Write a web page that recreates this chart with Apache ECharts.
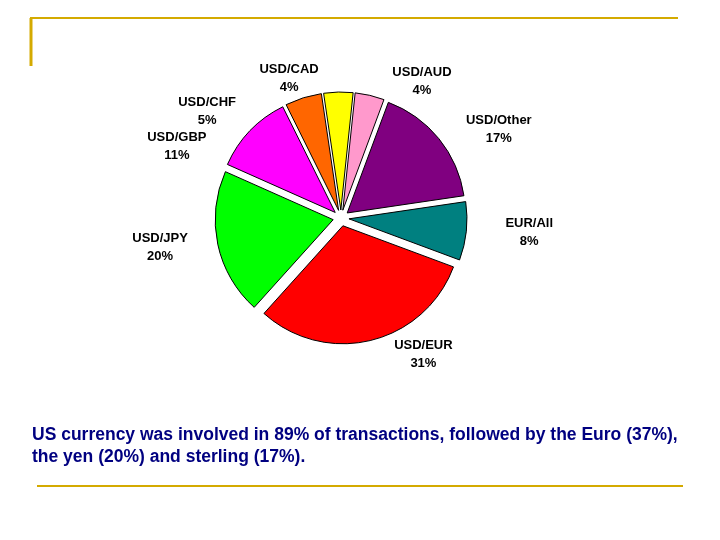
<!DOCTYPE html>
<html style="height: 100%">
<head>
	<meta charset="utf-8">
</head>
<body style="height: 100%; margin: 0; background: #fff">
<div id="container" style="height: 100%"></div>
<script type="text/javascript" src="https://cdn.jsdelivr.net/npm/echarts@6/dist/echarts.min.js"></script>
<script type="text/javascript">
    var pairs = ['USD/AUD', 'USD/Other', 'EUR/All', 'USD/EUR', 'USD/JPY', 'USD/GBP', 'USD/CHF', 'USD/CAD'];
    var shares = [4, 17, 8, 31, 20, 11, 5, 4];
    var colors = ['#FF99CC', '#800080', '#008080', '#FF0000', '#00FF00', '#FF00FF', '#FF6600', '#FFFF00'];

    var dom = document.getElementById("container");
    var myChart = echarts.init(dom);
    var gold = '#D4AA00';
    var option = {
        backgroundColor: '#fff',
        color: colors,
        graphic: [
            {type: 'line', shape: {x1: 30, y1: 18, x2: 678, y2: 18}, style: {stroke: gold, lineWidth: 2}},
            {type: 'line', shape: {x1: 31, y1: 18, x2: 31, y2: 66}, style: {stroke: gold, lineWidth: 3}},
            {type: 'line', shape: {x1: 37, y1: 486, x2: 683, y2: 486}, style: {stroke: gold, lineWidth: 2}},
            {
                type: 'text', left: 32, top: 424,
                style: {
                    text: 'US currency was involved in 89% of transactions, followed by the Euro (37%),\nthe yen (20%) and sterling (17%).',
                    font: 'bold 17.5px Arial, "Liberation Sans"', fill: '#000080', lineHeight: 22
                }
            }
        ],
        series: [{
            type: 'pie',
            center: [341, 218],
            radius: [0, 118],
            startAngle: 84,
            clockwise: true,
            selectedMode: 'multiple',
            selectedOffset: 8,
            animation: false,
            itemStyle: {borderColor: '#000', borderWidth: 1},
            label: {
                position: 'outside',
                formatter: '{a|{b}}\n{a|{c}%}',
                rich: {
                    a: {
                        width: 80, align: 'center', color: '#000',
                        fontFamily: 'Arial, "Liberation Sans"', fontWeight: 'bold',
                        fontSize: 13, lineHeight: 18
                    }
                }
            },
            labelLine: {show: false, length: 14, length2: 4},
            emphasis: {disabled: true},
            data: pairs.map(function (p, i) {
                return {name: p, value: shares[i], selected: true};
            })
        }]
    };
    myChart.setOption(option, true);
</script>
</body>
</html>
